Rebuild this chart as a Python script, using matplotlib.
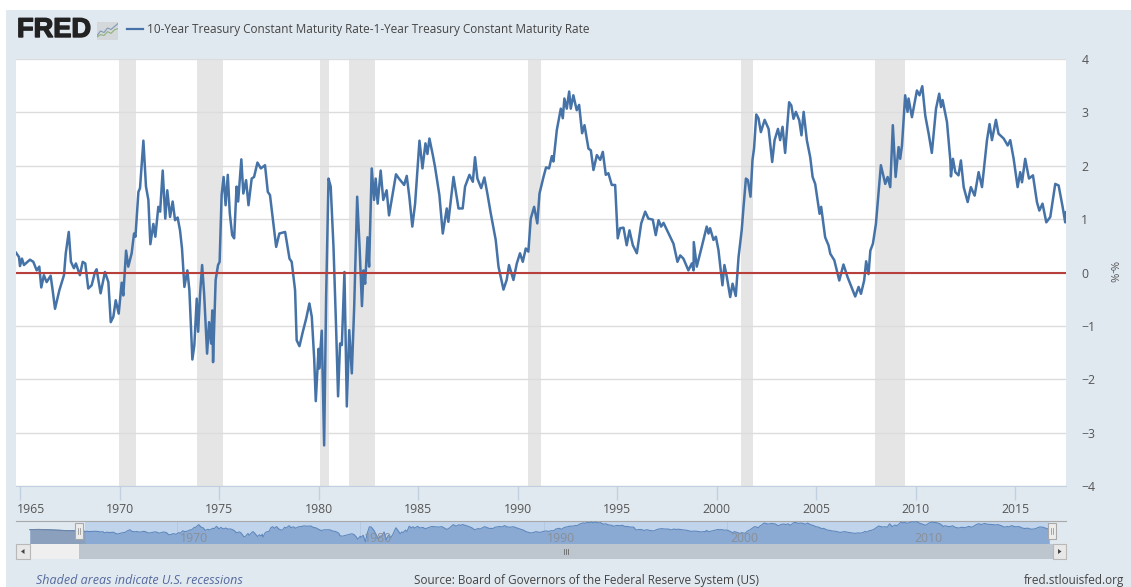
import matplotlib
matplotlib.use('Agg')
import matplotlib.pyplot as plt
import matplotlib.patheffects as pe
from matplotlib.patches import Rectangle, Polygon
from matplotlib.transforms import ScaledTranslation
import numpy as np

plt.rcParams['font.family'] = ['Open Sans', 'DejaVu Sans']

W, H = 1131, 587

# date (decimal year), spread in percent
years = [
    1964.8, 1964.95, 1965.0, 1965.1, 1965.2, 1965.5, 1965.67, 1965.84, 1965.97, 1966.07,
    1966.2, 1966.34, 1966.54, 1966.64, 1966.76, 1966.98, 1967.21, 1967.3, 1967.45, 1967.56,
    1967.71, 1967.81, 1968.01, 1968.15, 1968.28, 1968.43, 1968.6, 1968.77, 1968.85, 1969.05,
    1969.27, 1969.44, 1969.56, 1969.69, 1969.81, 1969.96, 1970.11, 1970.19, 1970.33, 1970.44,
    1970.61, 1970.73, 1970.8, 1970.95, 1971.03, 1971.2, 1971.33, 1971.45, 1971.55, 1971.7,
    1971.8, 1971.95, 1972.04, 1972.17, 1972.3, 1972.4, 1972.54, 1972.67, 1972.79, 1972.92,
    1973.04, 1973.14, 1973.26, 1973.41, 1973.51, 1973.66, 1973.76, 1973.88, 1973.95, 1974.05,
    1974.15, 1974.25, 1974.4, 1974.5, 1974.6, 1974.66, 1974.7, 1974.83, 1974.95, 1975.03,
    1975.13, 1975.23, 1975.33, 1975.44, 1975.54, 1975.66, 1975.76, 1975.88, 1975.96, 1976.12,
    1976.22, 1976.36, 1976.48, 1976.64, 1976.76, 1976.93, 1977.1, 1977.31, 1977.45, 1977.56,
    1977.73, 1977.87, 1978.03, 1978.32, 1978.54, 1978.65, 1978.82, 1978.9, 1979.04, 1979.21,
    1979.38, 1979.54, 1979.66, 1979.78, 1979.86, 1980.0, 1980.03, 1980.16, 1980.28, 1980.38,
    1980.5, 1980.61, 1980.75, 1980.88, 1980.98, 1981.08, 1981.17, 1981.3, 1981.42, 1981.54,
    1981.67, 1981.79, 1981.94, 1982.06, 1982.18, 1982.26, 1982.34, 1982.46, 1982.54, 1982.67,
    1982.79, 1982.87, 1982.97, 1983.12, 1983.25, 1983.42, 1983.54, 1983.89, 1984.04, 1984.3,
    1984.43, 1984.56, 1984.71, 1984.85, 1985.07, 1985.22, 1985.37, 1985.47, 1985.57, 1985.74,
    1985.85, 1986.07, 1986.24, 1986.44, 1986.52, 1986.78, 1987.03, 1987.24, 1987.36, 1987.58,
    1987.75, 1987.86, 1987.98, 1988.17, 1988.33, 1988.48, 1988.65, 1988.9, 1989.04, 1989.29,
    1989.45, 1989.57, 1989.79, 1989.96, 1990.12, 1990.26, 1990.41, 1990.54, 1990.66, 1990.83,
    1990.99, 1991.1, 1991.3, 1991.43, 1991.58, 1991.72, 1991.8, 1991.97, 1992.17, 1992.27,
    1992.35, 1992.47, 1992.59, 1992.67, 1992.8, 1992.97, 1993.09, 1993.24, 1993.36, 1993.56,
    1993.68, 1993.81, 1993.98, 1994.15, 1994.28, 1994.43, 1994.56, 1994.73, 1994.9, 1995.03,
    1995.15, 1995.32, 1995.48, 1995.62, 1995.79, 1995.99, 1996.21, 1996.41, 1996.57, 1996.79,
    1996.94, 1997.08, 1997.21, 1997.33, 1997.66, 1997.83, 1998.03, 1998.17, 1998.33, 1998.58,
    1998.75, 1998.84, 1998.85, 1999.0, 1999.25, 1999.5, 1999.59, 1999.67, 1999.84, 1999.96,
    2000.09, 2000.29, 2000.39, 2000.51, 2000.68, 2000.8, 2000.96, 2001.1, 2001.18, 2001.26,
    2001.35, 2001.47, 2001.57, 2001.7, 2001.8, 2001.88, 2001.99, 2002.1, 2002.22, 2002.41,
    2002.61, 2002.79, 2002.91, 2003.08, 2003.19, 2003.31, 2003.44, 2003.64, 2003.75, 2003.86,
    2003.98, 2004.15, 2004.26, 2004.37, 2004.53, 2004.7, 2004.82, 2004.95, 2005.17, 2005.25,
    2005.45, 2005.62, 2005.71, 2005.91, 2006.16, 2006.37, 2006.58, 2006.96, 2007.13, 2007.25,
    2007.41, 2007.51, 2007.63, 2007.72, 2007.85, 2008.0, 2008.17, 2008.25, 2008.47, 2008.59,
    2008.72, 2008.85, 2008.99, 2009.14, 2009.22, 2009.31, 2009.47, 2009.59, 2009.64, 2009.81,
    2010.06, 2010.19, 2010.33, 2010.48, 2010.65, 2010.81, 2011.02, 2011.18, 2011.27, 2011.35,
    2011.57, 2011.74, 2011.77, 2011.87, 2011.99, 2012.15, 2012.27, 2012.41, 2012.61, 2012.77,
    2012.96, 2013.16, 2013.33, 2013.58, 2013.71, 2013.83, 2014.03, 2014.16, 2014.42, 2014.62,
    2014.75, 2014.92, 2015.12, 2015.25, 2015.34, 2015.5, 2015.69, 2015.89, 2016.09, 2016.21,
    2016.37, 2016.56, 2016.76, 2017.01, 2017.18, 2017.38, 2017.51, 2017.55,
]
spread = [
    0.37, 0.29, 0.12, 0.26, 0.14, 0.24, 0.20, 0.04, 0.11, -0.28,
    -0.05, -0.18, -0.06, -0.33, -0.68, -0.33, -0.05, 0.36, 0.76, 0.20,
    0.08, 0.17, -0.05, 0.20, 0.17, -0.30, -0.24, 0.01, 0.06, -0.39,
    0.01, -0.18, -0.93, -0.83, -0.52, -0.77, -0.19, -0.43, 0.41, 0.11,
    0.36, 0.73, 0.67, 1.51, 1.58, 2.47, 1.61, 1.36, 0.53, 0.91,
    0.67, 1.23, 1.14, 1.91, 1.01, 1.54, 1.04, 1.33, 0.98, 1.03,
    0.79, 0.45, -0.27, 0.04, -0.33, -1.63, -1.36, -0.49, -1.11, -0.39,
    0.14, -0.39, -1.52, -0.93, -1.33, -0.71, -1.68, -0.14, 0.14, 0.20,
    1.45, 1.79, 1.26, 1.83, 1.11, 0.70, 0.64, 1.61, 1.33, 2.12,
    1.48, 1.73, 1.26, 1.76, 1.79, 2.06, 1.95, 2.01, 1.51, 1.45,
    0.92, 0.48, 0.73, 0.76, 0.26, 0.20, -0.33, -1.27, -1.38, -1.11,
    -0.86, -0.58, -0.83, -1.61, -2.41, -1.43, -1.80, -1.09, -3.24, -0.46,
    1.76, 1.61, 0.48, -1.02, -2.32, -1.33, -1.36, 0.01, -2.51, -1.08,
    -1.89, -0.64, 1.42, 0.48, -0.63, 0.04, -0.21, 0.66, 0.11, 1.95,
    1.36, 1.76, 1.29, 1.91, 1.36, 1.54, 1.07, 1.84, 1.76, 1.64,
    1.81, 1.42, 0.86, 1.29, 2.47, 1.95, 2.42, 2.22, 2.51, 2.20,
    1.98, 1.45, 0.73, 1.20, 0.95, 1.79, 1.20, 1.20, 1.61, 1.83,
    1.70, 2.16, 1.76, 1.58, 1.78, 1.48, 1.11, 0.61, 0.11, -0.32,
    -0.14, 0.14, -0.14, 0.17, 0.36, 0.20, 0.45, 0.39, 1.01, 1.23,
    0.92, 1.48, 1.79, 1.97, 1.95, 2.18, 2.08, 2.67, 3.07, 2.89,
    3.26, 3.07, 3.39, 3.07, 3.32, 3.04, 3.14, 2.61, 2.76, 2.32,
    2.29, 1.92, 2.20, 2.11, 2.26, 1.83, 1.86, 1.64, 1.64, 0.64,
    0.83, 0.84, 0.51, 0.79, 0.51, 0.36, 0.92, 1.14, 1.01, 0.99,
    0.70, 0.98, 0.86, 0.93, 0.67, 0.54, 0.20, 0.32, 0.26, 0.04,
    0.17, 0.04, 0.57, 0.11, 0.48, 0.86, 0.73, 0.83, 0.61, 0.67,
    0.42, -0.24, 0.14, -0.08, -0.46, -0.21, -0.44, 0.29, 0.54, 0.80,
    1.23, 1.76, 1.73, 1.42, 2.11, 2.33, 2.96, 2.89, 2.63, 2.86,
    2.69, 2.07, 2.48, 2.69, 2.48, 2.73, 2.24, 3.19, 3.13, 2.88,
    3.01, 2.85, 2.57, 3.01, 2.48, 2.16, 1.79, 1.66, 1.10, 1.23,
    0.66, 0.51, 0.35, 0.23, -0.15, 0.15, -0.09, -0.45, -0.27, -0.40,
    -0.15, 0.21, -0.03, 0.41, 0.54, 0.91, 1.66, 2.01, 1.66, 1.79,
    1.60, 2.76, 1.79, 2.35, 2.13, 2.38, 3.32, 3.01, 3.26, 2.91,
    3.41, 3.32, 3.49, 2.94, 2.60, 2.24, 3.07, 3.35, 3.10, 3.23,
    2.82, 2.10, 1.80, 2.13, 1.88, 1.82, 2.10, 1.60, 1.32, 1.60,
    1.44, 1.88, 1.60, 2.48, 2.78, 2.48, 2.86, 2.60, 2.51, 2.38,
    2.48, 2.13, 1.60, 1.88, 1.69, 2.13, 1.76, 1.82, 1.32, 1.16,
    1.29, 0.94, 1.04, 1.66, 1.63, 1.23, 0.94, 1.13,
]

# the navigator also shows the years before the main window
early_years = [1962.0, 1962.5, 1963.0, 1963.5, 1964.0, 1964.5]
early_spread = [0.8, 0.85, 0.75, 0.6, 0.45, 0.4]

recession_start = [1969.97, 1973.9, 1980.05, 1981.53, 1990.5, 2001.2, 2007.93]
recession_end = [1970.83, 1975.2, 1980.53, 1982.84, 1991.2, 2001.85, 2009.44]

x_ticks = [1965, 1970, 1975, 1980, 1985, 1990, 1995, 2000, 2005, 2010, 2015]
y_ticks = [-4, -3, -2, -1, 0, 1, 2, 3, 4]
nav_ticks = [1970, 1980, 1990, 2000, 2010]

title = '10-Year Treasury Constant Maturity Rate-1-Year Treasury Constant Maturity Rate'

BG = '#e1e9f0'
LINE = '#4572a7'
TXT = '#555555'


def axes_px(fig, x0, y0, x1, y1, **kw):
    return fig.add_axes([x0 / W, 1 - y1 / H, (x1 - x0) / W, (y1 - y0) / H], **kw)


def ftext(fig, x, y, s, **kw):
    kw.setdefault('va', 'center')
    return fig.text(x / W, 1 - y / H, s, **kw)


def frect(fig, x0, y0, x1, y1, color, ec='none', z=1):
    fig.add_artist(Rectangle((x0 / W, 1 - y1 / H), (x1 - x0) / W, (y1 - y0) / H,
                             transform=fig.transFigure, fc=color, ec=ec, lw=0.8, zorder=z))


fig = plt.figure(figsize=(W / 100, H / 100), dpi=100, facecolor='white')
frect(fig, 6, 10, W, H, BG, z=-5)

# main chart
ax = axes_px(fig, 16, 59, 1066, 486)
ax.set_xlim(1964.8, 2017.55)
ax.set_ylim(-4, 4)
for s, e in zip(recession_start, recession_end):
    ax.axvspan(s, e, color='#e5e5e5', lw=0, zorder=1)
ax.set_yticks(y_ticks)
ax.grid(axis='y', color='#dcdcdc', lw=1, zorder=2)
ax.plot(years, spread, color=LINE, lw=1.8, solid_joinstyle='round', zorder=3)
ax.axhline(0, color='#b8403c', lw=1.5, zorder=4)
ax.yaxis.tick_right()
ax.tick_params(axis='y', length=0, labelsize=8.8, labelcolor=TXT, pad=11)
ax.set_xticks(x_ticks)
ax.set_xticklabels([str(v) for v in x_ticks])
ax.tick_params(axis='x', length=10, width=1, color='#c0d0e0', labelsize=8.8, labelcolor=TXT, pad=2)
first = ax.get_xticklabels()[0]
first.set_horizontalalignment('left')
first.set_transform(first.get_transform() + ScaledTranslation(-3 / 100, 0, fig.dpi_scale_trans))
for k in ['top', 'left', 'right']:
    ax.spines[k].set_visible(False)
ax.spines['bottom'].set_color('#c0d0e0')
ftext(fig, 1112, 272, '%-%', rotation=-90, ha='center', fontsize=8, color=TXT)

# header
logo_text = ftext(fig, 17, 30, 'FRED', family='Liberation Sans', weight='bold', fontsize=19.6, color='#222222')
logo_text.set_path_effects([pe.withStroke(linewidth=1.0, foreground='#222222')])
logo = axes_px(fig, 97, 22, 118, 40)
logo.set_facecolor('#d4d8da')
logo.set_xlim(0, 6)
logo.set_ylim(0, 6)
logo.set_xticks([])
logo.set_yticks([])
for k in logo.spines:
    logo.spines[k].set_visible(False)
logo.plot([0, 1, 2, 3, 4, 5, 6], [1.5, 3, 2.5, 4, 3.5, 4.5, 5.5], color='#7f99b8', lw=0.8)
logo.plot([0, 1, 2, 3, 4, 5, 6], [1, 1.8, 1.5, 2.8, 2.2, 3.4, 3.8], color='#8fb27a', lw=0.8)
fig.add_artist(plt.Line2D([127 / W, 143 / W], [1 - 29 / H] * 2, color=LINE, lw=1.6))
ftext(fig, 147, 29, title, fontsize=8.5, color='#444444')

# navigator
nav = axes_px(fig, 16, 520.5, 1066, 544)
nav.set_xlim(1961.24, 2018.46)
nav.set_ylim(-4.0, 3.85)
nav.patch.set_alpha(0)
nav_x = np.array(early_years + years)
nav_y = np.array(early_spread + spread)
nav.axvspan(1965, 2017.55, color='#c0d4ec', lw=0, zorder=1)
nav.fill_between(nav_x, nav_y, -4, color='#8aaad3', lw=0, zorder=2)
nav.plot(nav_x, nav_y, color='#5f88bd', lw=0.8, zorder=3)
keep = nav_x <= 1965
nav.fill_between(nav_x[keep], nav_y[keep], -4, color='#8aa0bd', lw=0, zorder=4)
nav.plot(nav_x[keep], nav_y[keep], color='#6d86a8', lw=0.8, zorder=5)
nav.set_xticks([])
nav.set_yticks([])
for k in ['left', 'right', 'bottom']:
    nav.spines[k].set_visible(False)
nav.spines['top'].set_color('#a8a8a8')
for v in nav_ticks:
    nav.axvline(v, color='#b4c8e2', lw=0.7, zorder=1.5)
    nav.text(v + 0.18, -2.05, str(v), ha='left', va='center', fontsize=8.8, color='#8a8f96', zorder=6)

# scrollbar
frect(fig, 30, 544, 79, 559, '#efefef', z=2)
frect(fig, 79, 544, 1053, 559, '#bdc5cf', z=2)
frect(fig, 16, 544, 30, 559, '#e8e8e8', ec='#b8b8b8', z=3)
frect(fig, 1053, 544, 1066, 559, '#e8e8e8', ec='#b8b8b8', z=3)
fig.add_artist(Polygon([[21 / W, 1 - 551.5 / H], [24.5 / W, 1 - 549 / H], [24.5 / W, 1 - 554 / H]],
                       transform=fig.transFigure, fc='#444444', ec='none', zorder=4))
fig.add_artist(Polygon([[1061.5 / W, 1 - 551.5 / H], [1058 / W, 1 - 549 / H], [1058 / W, 1 - 554 / H]],
                       transform=fig.transFigure, fc='#444444', ec='none', zorder=4))
for hx in [79, 1052]:
    frect(fig, hx - 4, 523, hx + 4, 539, '#ececec', ec='#a8a8a8', z=6)
    for d in [-1.2, 1.2]:
        fig.add_artist(plt.Line2D([(hx + d) / W] * 2, [1 - 528 / H, 1 - 534 / H], color='#999999', lw=0.6, zorder=7))
for d in [-2, 0, 2]:
    fig.add_artist(plt.Line2D([(565.5 + d) / W] * 2, [1 - 549 / H, 1 - 554 / H], color='#666666', lw=0.6, zorder=7))

# footer
ftext(fig, 36, 580.5, 'Shaded areas indicate U.S. recessions', fontsize=9, style='italic', color='#54689c')
ftext(fig, 414, 580.5, 'Source: Board of Governors of the Federal Reserve System (US)', fontsize=8.5, color='#444444')
ftext(fig, 1124, 580.5, 'fred.stlouisfed.org', fontsize=8.5, ha='right', color='#444444')

fig.savefig('out.png', dpi=100, facecolor='white')
